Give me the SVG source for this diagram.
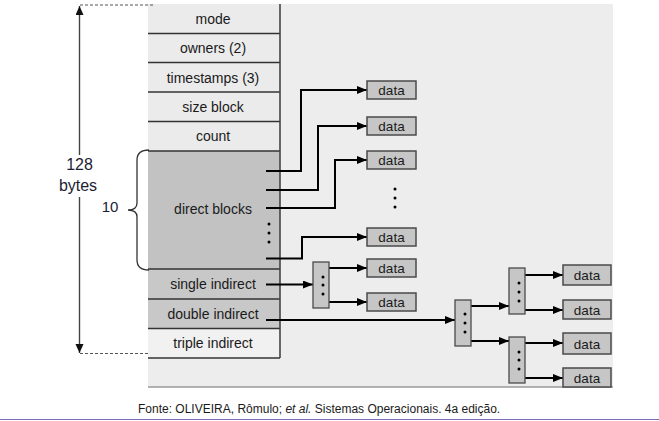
<svg xmlns="http://www.w3.org/2000/svg" width="659" height="421" viewBox="0 0 659 421">
<style>
text{font-family:"Liberation Sans",Arial,sans-serif;fill:#1a1a1a}
.lbl{font-size:14px;text-anchor:middle}
.dl{font-size:13.5px;text-anchor:middle}
.sep{stroke:#333;stroke-width:1.5}
.data{fill:#c6c6c6;stroke:#4a4a4a;stroke-width:1.5}
.ib{fill:#c6c6c6;stroke:#4a4a4a;stroke-width:1.3}
.cn{fill:none;stroke:#000;stroke-width:2;marker-end:url(#ah)}
.dot{fill:#000}
.big{font-size:16px;text-anchor:middle;fill:#1c1c34}
</style>
<defs>
<marker id="ah" markerUnits="userSpaceOnUse" markerWidth="11" markerHeight="9" refX="10" refY="4" orient="auto">
<path d="M0,0 L10,4 L0,8 z" fill="#000"/>
</marker>
<marker id="dh" markerUnits="userSpaceOnUse" markerWidth="10" markerHeight="9" refX="9" refY="4" orient="auto">
<path d="M0,0 L9,4 L0,8 z" fill="#111"/>
</marker>
</defs>
<rect width="659" height="421" fill="#fff"/>
<rect id="bg" x="148" y="4" width="465" height="383" fill="#ededed"/>
<line x1="148" y1="387" x2="613" y2="387" stroke="#9a9a9a" stroke-width="1.5"/>

<g id="inode">
<rect x="148" y="4" width="132" height="147" fill="#ebebeb"/>
<rect x="148" y="151" width="132" height="118" fill="#c2c2c2"/>
<rect x="148" y="269" width="132" height="59" fill="#c8c8c8"/>
<rect x="148" y="328" width="132" height="30" fill="#f1f1f1"/>
<line class="sep" x1="148" y1="33.5" x2="280" y2="33.5"/>
<line class="sep" x1="148" y1="62.5" x2="280" y2="62.5"/>
<line class="sep" x1="148" y1="92" x2="280" y2="92"/>
<line class="sep" x1="148" y1="121.5" x2="280" y2="121.5"/>
<line class="sep" x1="148" y1="151" x2="280" y2="151"/>
<line class="sep" x1="148" y1="269" x2="280" y2="269"/>
<line class="sep" x1="148" y1="299" x2="280" y2="299"/>
<line class="sep" x1="148" y1="328.5" x2="280" y2="328.5"/>
<line class="sep" x1="148" y1="358" x2="280" y2="358"/>
<line x1="280" y1="4" x2="280" y2="358" stroke="#444" stroke-width="1.6"/>
<text class="lbl" x="213" y="24">mode</text>
<text class="lbl" x="213" y="53">owners (2)</text>
<text class="lbl" x="213" y="82.5">timestamps (3)</text>
<text class="lbl" x="213" y="111.5">size block</text>
<text class="lbl" x="213" y="141">count</text>
<text class="lbl" x="213" y="213.5">direct blocks</text>
<text class="lbl" x="213" y="289">single indirect</text>
<text class="lbl" x="213" y="318.5">double indirect</text>
<text class="lbl" x="213" y="348">triple indirect</text>
<circle class="dot" cx="269" cy="224" r="1.5"/>
<circle class="dot" cx="269" cy="233" r="1.5"/>
<circle class="dot" cx="269" cy="242" r="1.5"/>
</g>

<g id="size-annotation">
<path d="M80,5 H155 M80,353.5 H148" stroke="#555" stroke-width="1.2" stroke-dasharray="3,2" fill="none"/>
<line x1="79.5" y1="155" x2="79.5" y2="6" stroke="#444" stroke-width="1.4" marker-end="url(#dh)"/>
<line x1="79.5" y1="197" x2="79.5" y2="353" stroke="#444" stroke-width="1.4" marker-end="url(#dh)"/>
<text class="big" x="79.5" y="170">128</text>
<text class="big" x="78" y="191">bytes</text>
<text class="big" x="110" y="212" style="font-size:15px">10</text>
<path d="M149,150 Q137,150 137,160 L137,203 Q137,210 128,210 Q137,210 137,217 L137,260 Q137,270 149,270" fill="none" stroke="#333" stroke-width="1.3"/>
</g>

<g id="connectors">
<path class="cn" d="M266,171 H301 V90 H367"/>
<path class="cn" d="M266,190 H318 V126 H367"/>
<path class="cn" d="M266,208 H335 V160 H367"/>
<path class="cn" d="M266,258.5 H302 V237 H367"/>
<path class="cn" d="M266,284.5 H313"/>
<path class="cn" d="M322,268 H367"/>
<path class="cn" d="M322,302 H367"/>
<path class="cn" d="M266,320 H455"/>
<path class="cn" d="M463,306 H509"/>
<path class="cn" d="M463,341 H509"/>
<path class="cn" d="M517,275 H563"/>
<path class="cn" d="M517,310 H563"/>
<path class="cn" d="M517,343 H563"/>
<path class="cn" d="M517,378 H563"/>
</g>

<g id="data1"><rect class="data" x="367" y="81" width="49" height="18"/><text class="dl" x="391.5" y="95">data</text></g>
<g id="data2"><rect class="data" x="367" y="117" width="49" height="18"/><text class="dl" x="391.5" y="131">data</text></g>
<g id="data3"><rect class="data" x="367" y="151" width="49" height="18"/><text class="dl" x="391.5" y="165">data</text></g>
<g id="data-dots">
<circle class="dot" cx="395" cy="189" r="1.5"/>
<circle class="dot" cx="395" cy="198" r="1.5"/>
<circle class="dot" cx="395" cy="207" r="1.5"/>
</g>
<g id="data4"><rect class="data" x="367" y="228" width="49" height="18"/><text class="dl" x="391.5" y="242">data</text></g>
<g id="data5"><rect class="data" x="367" y="259" width="49" height="18"/><text class="dl" x="391.5" y="273">data</text></g>
<g id="data6"><rect class="data" x="367" y="293" width="49" height="18"/><text class="dl" x="391.5" y="307">data</text></g>

<g id="single-block"><rect class="ib" x="313" y="262" width="16" height="46"/>
<circle class="dot" cx="323" cy="277" r="1.5"/><circle class="dot" cx="323" cy="285" r="1.5"/><circle class="dot" cx="323" cy="294" r="1.5"/></g>
<g id="double-block"><rect class="ib" x="455" y="300" width="16" height="46"/>
<circle class="dot" cx="465" cy="314" r="1.5"/><circle class="dot" cx="465" cy="323" r="1.5"/><circle class="dot" cx="465" cy="332" r="1.5"/></g>
<g id="double-a"><rect class="ib" x="509" y="268" width="16" height="46"/>
<circle class="dot" cx="519" cy="283" r="1.5"/><circle class="dot" cx="519" cy="292" r="1.5"/><circle class="dot" cx="519" cy="301" r="1.5"/></g>
<g id="double-b"><rect class="ib" x="509" y="337" width="16" height="46"/>
<circle class="dot" cx="519" cy="352" r="1.5"/><circle class="dot" cx="519" cy="360" r="1.5"/><circle class="dot" cx="519" cy="369" r="1.5"/></g>

<g id="data7"><rect class="data" x="563" y="265" width="48" height="20"/><text class="dl" x="587" y="280">data</text></g>
<g id="data8"><rect class="data" x="563" y="300" width="48" height="19"/><text class="dl" x="587" y="314.5">data</text></g>
<g id="data9"><rect class="data" x="563" y="333" width="48" height="21"/><text class="dl" x="587" y="348.5">data</text></g>
<g id="data10"><rect class="data" x="563" y="368" width="48" height="19"/><text class="dl" x="587" y="382.5">data</text></g>

<text x="138" y="413" style="font-size:12px">Fonte: OLIVEIRA, Rômulo; <tspan font-style="italic">et al.</tspan> Sistemas Operacionais. 4a edição.</text>
<line x1="0" y1="419.5" x2="659" y2="419.5" stroke="#7c6cb4" stroke-width="1.2"/>
</svg>
